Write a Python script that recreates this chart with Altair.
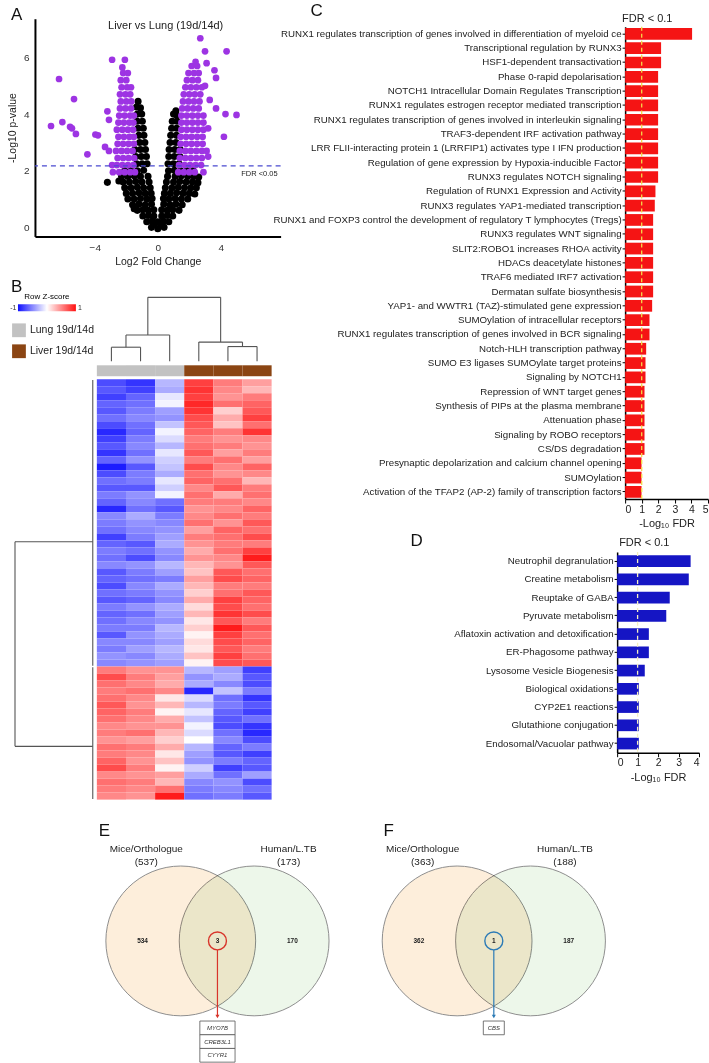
import altair as alt
import pandas as pd

FONT = "Liberation Sans, Arial, DejaVu Sans"
PURPLE = "#9d34e3"
RED = "#f51414"
BLUE = "#1515c4"

# ---------------- Panel A : volcano plot (log2FC, -log10 p) ----------------
volcano_ns = [
    (-0.4, 0.0), (0.0, -0.05), (0.4, 0.0), (-0.2, 0.12), (0.2, 0.12),
    (-0.7, 0.2), (-0.35, 0.22), (0.0, 0.2), (0.35, 0.22), (0.7, 0.2),
    (-0.95, 0.4), (-0.6, 0.42), (-0.25, 0.4), (0.25, 0.4), (0.6, 0.42), (0.95, 0.4),
    (-1.3, 0.6), (-0.95, 0.62), (-0.6, 0.6), (-0.25, 0.62), (0.25, 0.62), (0.6, 0.6),
    (0.95, 0.62), (1.35, 0.6), (-1.5, 0.66),
    (-1.6, 0.8), (-1.2, 0.82), (-0.8, 0.8), (-0.4, 0.82), (0.38, 0.82), (0.78, 0.8),
    (1.15, 0.82), (1.55, 0.8),
    (-1.9, 1.0), (-1.5, 1.0), (-1.1, 1.02), (-0.7, 1.0), (-0.36, 1.02), (0.36, 1.02),
    (0.7, 1.0), (1.1, 1.02), (1.5, 1.0), (1.9, 1.0),
    (-2.0, 1.2), (-1.6, 1.2), (-1.2, 1.22), (-0.8, 1.2), (-0.42, 1.2), (0.42, 1.2),
    (0.8, 1.2), (1.2, 1.22), (1.6, 1.2), (2.0, 1.2), (2.35, 1.18),
    (-2.1, 1.4), (-1.7, 1.4), (-1.3, 1.42), (-0.9, 1.4), (-0.48, 1.4), (0.48, 1.4),
    (0.9, 1.4), (1.3, 1.42), (1.7, 1.4), (2.1, 1.4), (2.45, 1.4),
    (-2.2, 1.6), (-1.8, 1.6), (-1.4, 1.62), (-1.0, 1.6), (-0.55, 1.6), (0.55, 1.6),
    (1.0, 1.6), (1.4, 1.62), (1.8, 1.6), (2.2, 1.6), (2.55, 1.58), (-2.47, 1.64),
    (-3.2, 1.59),
    (-2.3, 1.8), (-1.9, 1.8), (-1.5, 1.82), (-1.1, 1.8), (-0.62, 1.8), (0.62, 1.8),
    (1.1, 1.8), (1.5, 1.82), (1.9, 1.8), (2.3, 1.8), (2.6, 1.78),
    (-2.1, 2.0), (-1.7, 2.0), (-1.3, 2.0), (-0.9, 2.02), (0.68, 2.0), (1.05, 2.02),
    (1.45, 2.0), (1.85, 2.0), (2.25, 2.0),
    (-1.35, 2.25), (-1.0, 2.25), (-0.68, 2.25), (0.65, 2.25), (1.0, 2.25), (1.35, 2.25),
    (-1.4, 2.5), (-1.05, 2.5), (-0.72, 2.5), (0.7, 2.5), (1.05, 2.5), (1.4, 2.5),
    (-1.45, 2.75), (-1.1, 2.75), (-0.78, 2.75), (0.72, 2.75), (1.08, 2.75), (1.42, 2.75),
    (-1.15, 3.0), (-0.82, 3.0), (0.78, 3.0), (1.15, 3.0),
    (-1.2, 3.25), (-0.88, 3.25), (0.82, 3.25), (1.18, 3.25),
    (-1.25, 3.5), (-0.92, 3.5), (0.88, 3.5), (1.2, 3.5),
    (-1.3, 3.75), (-0.98, 3.75), (0.92, 3.75), (1.22, 3.75),
    (-1.3, 4.0), (-1.02, 4.0), (1.0, 4.0), (1.22, 3.95),
    (-1.35, 4.25), (-1.1, 4.22), (1.15, 4.12),
    (-1.25, 4.45),
]

volcano_sig = [
    # left (down-regulated) cloud
    (-2.45, 1.95), (-2.1, 1.95), (-1.75, 1.95), (-1.45, 1.95),
    (-2.6, 2.2), (-2.25, 2.2), (-1.9, 2.2), (-1.55, 2.2),
    (-2.55, 2.45), (-2.2, 2.45), (-1.85, 2.45), (-1.5, 2.45),
    (-2.65, 2.7), (-2.3, 2.7), (-1.95, 2.7), (-1.6, 2.7),
    (-2.55, 2.95), (-2.2, 2.95), (-1.85, 2.95), (-1.52, 2.95),
    (-2.5, 3.2), (-2.15, 3.2), (-1.8, 3.2), (-1.52, 3.2),
    (-2.6, 3.45), (-2.25, 3.45), (-1.9, 3.45), (-1.57, 3.45),
    (-2.5, 3.7), (-2.15, 3.7), (-1.8, 3.7), (-1.55, 3.7),
    (-2.45, 3.95), (-2.1, 3.95), (-1.75, 3.95), (-1.52, 3.95),
    (-2.4, 4.2), (-2.05, 4.2), (-1.7, 4.2),
    (-2.35, 4.45), (-2.0, 4.45), (-1.68, 4.45),
    (-2.4, 4.7), (-2.05, 4.7), (-1.75, 4.7),
    (-2.3, 4.95), (-1.95, 4.95), (-1.7, 4.95),
    (-2.35, 5.2), (-2.0, 5.2),
    (-2.2, 5.45), (-1.9, 5.45),
    (-2.25, 5.65),
    (-2.9, 5.92), (-2.09, 5.92), (-6.27, 5.24), (-5.32, 4.53), (-6.06, 3.72),
    (-6.78, 3.58), (-5.57, 3.55), (-5.45, 3.5), (-5.2, 3.3), (-3.96, 3.28),
    (-3.8, 3.25), (-4.47, 2.58), (-3.35, 2.84), (-3.1, 2.7), (-3.2, 4.1),
    (-3.1, 3.8), (-2.9, 2.2), (-2.85, 1.95),
    # right (up-regulated) cloud
    (1.3, 1.95), (1.65, 1.95), (2.0, 1.95), (2.35, 1.95),
    (1.35, 2.2), (1.7, 2.2), (2.05, 2.2), (2.4, 2.2), (2.75, 2.2),
    (1.4, 2.45), (1.75, 2.45), (2.1, 2.45), (2.45, 2.45), (2.8, 2.45),
    (1.4, 2.7), (1.75, 2.7), (2.1, 2.7), (2.45, 2.7), (2.8, 2.7),
    (1.45, 2.95), (1.8, 2.95), (2.15, 2.95), (2.5, 2.95), (2.85, 2.95),
    (1.45, 3.2), (1.8, 3.2), (2.15, 3.2), (2.5, 3.2), (2.85, 3.2),
    (1.5, 3.45), (1.85, 3.45), (2.2, 3.45), (2.55, 3.45), (2.9, 3.45),
    (1.5, 3.7), (1.85, 3.7), (2.2, 3.7), (2.55, 3.7), (2.9, 3.7),
    (1.5, 3.95), (1.85, 3.95), (2.2, 3.95), (2.55, 3.95), (2.9, 3.95),
    (1.55, 4.2), (1.9, 4.2), (2.25, 4.2), (2.6, 4.2),
    (1.6, 4.45), (1.95, 4.45), (2.3, 4.45), (2.65, 4.45),
    (1.65, 4.7), (2.0, 4.7), (2.35, 4.7), (2.7, 4.7),
    (1.75, 4.95), (2.1, 4.95), (2.45, 4.95), (2.8, 4.95),
    (1.85, 5.2), (2.2, 5.2), (2.55, 5.2),
    (1.95, 5.45), (2.3, 5.45), (2.6, 5.45),
    (2.15, 5.7), (2.5, 5.7),
    (2.7, 6.68), (3.0, 6.22), (4.37, 6.22), (2.4, 5.85), (3.1, 5.8), (3.6, 5.55),
    (3.7, 5.28), (4.3, 4.0), (5.0, 3.97), (4.2, 3.2), (3.7, 4.2), (3.1, 2.7),
    (3.2, 2.5), (2.9, 1.95), (3.2, 3.5), (3.3, 4.5), (3.0, 5.0),
]
fdr005_nlp = 2.17

# ---------------- Panel B : heatmap (row z-scores) ----------------
heat_samples = ["Lung 1", "Lung 2", "Lung 3", "Liver 1", "Liver 2", "Liver 3"]
heat_groups = ["Lung 19d/14d", "Lung 19d/14d", "Lung 19d/14d",
               "Liver 19d/14d", "Liver 19d/14d", "Liver 19d/14d"]
heat_rows_up_in_liver = [
    [-0.75, -0.85, -0.30, 0.80, 0.55, 0.40],
    [-0.70, -0.80, -0.35, 0.85, 0.50, 0.30],
    [-0.80, -0.65, -0.10, 0.80, 0.45, 0.55],
    [-0.65, -0.60, -0.05, 0.90, 0.60, 0.65],
    [-0.70, -0.55, -0.40, 0.85, 0.20, 0.70],
    [-0.60, -0.50, -0.45, 0.75, 0.35, 0.80],
    [-0.75, -0.60, -0.25, 0.70, 0.25, 0.60],
    [-0.90, -0.65, -0.05, 0.65, 0.55, 0.85],
    [-0.80, -0.55, -0.15, 0.55, 0.45, 0.50],
    [-0.70, -0.50, -0.30, 0.60, 0.55, 0.45],
    [-0.85, -0.60, -0.10, 0.70, 0.40, 0.55],
    [-0.65, -0.45, -0.20, 0.55, 0.60, 0.40],
    [-0.95, -0.70, -0.25, 0.75, 0.50, 0.65],
    [-0.75, -0.55, -0.35, 0.60, 0.45, 0.50],
    [-0.60, -0.55, -0.10, 0.65, 0.60, 0.30],
    [-0.70, -0.70, -0.20, 0.50, 0.70, 0.55],
    [-0.55, -0.45, -0.05, 0.60, 0.35, 0.60],
    [-0.65, -0.50, -0.60, 0.55, 0.55, 0.50],
    [-0.90, -0.60, -0.70, 0.45, 0.50, 0.65],
    [-0.50, -0.35, -0.55, 0.50, 0.60, 0.55],
    [-0.55, -0.45, -0.50, 0.60, 0.45, 0.70],
    [-0.60, -0.50, -0.45, 0.40, 0.65, 0.60],
    [-0.80, -0.55, -0.40, 0.55, 0.60, 0.75],
    [-0.65, -0.70, -0.35, 0.45, 0.55, 0.55],
    [-0.55, -0.60, -0.45, 0.35, 0.60, 0.80],
    [-0.60, -0.75, -0.50, 0.45, 0.50, 0.95],
    [-0.50, -0.45, -0.30, 0.30, 0.45, 0.70],
    [-0.70, -0.55, -0.40, 0.25, 0.70, 0.60],
    [-0.65, -0.60, -0.55, 0.40, 0.75, 0.65],
    [-0.75, -0.50, -0.35, 0.30, 0.55, 0.55],
    [-0.60, -0.55, -0.45, 0.20, 0.60, 0.70],
    [-0.70, -0.65, -0.50, 0.35, 0.80, 0.65],
    [-0.55, -0.45, -0.35, 0.15, 0.75, 0.60],
    [-0.65, -0.60, -0.40, 0.30, 0.85, 0.75],
    [-0.60, -0.50, -0.45, 0.10, 0.70, 0.55],
    [-0.55, -0.55, -0.30, 0.20, 0.95, 0.70],
    [-0.70, -0.45, -0.35, 0.05, 0.80, 0.60],
    [-0.50, -0.50, -0.40, 0.15, 0.75, 0.65],
    [-0.55, -0.40, -0.30, 0.10, 0.70, 0.55],
    [-0.45, -0.50, -0.35, 0.25, 0.80, 0.60],
    [-0.50, -0.45, -0.40, 0.05, 0.75, 0.70],
]
heat_rows_down_in_liver = [
    [0.55, 0.45, 0.45, -0.30, -0.40, -0.80],
    [0.75, 0.55, 0.40, -0.45, -0.35, -0.70],
    [0.60, 0.50, 0.35, -0.35, -0.50, -0.75],
    [0.55, 0.60, 0.50, -0.90, -0.25, -0.55],
    [0.60, 0.50, 0.10, -0.15, -0.60, -0.85],
    [0.70, 0.45, 0.30, -0.30, -0.55, -0.70],
    [0.65, 0.55, 0.05, -0.10, -0.65, -0.80],
    [0.60, 0.50, 0.35, -0.25, -0.70, -0.60],
    [0.50, 0.45, 0.45, -0.05, -0.75, -0.85],
    [0.55, 0.60, 0.30, -0.15, -0.60, -0.90],
    [0.45, 0.40, 0.20, 0.00, -0.50, -0.75],
    [0.60, 0.55, 0.35, -0.30, -0.65, -0.55],
    [0.55, 0.50, 0.10, -0.40, -0.70, -0.80],
    [0.65, 0.45, 0.25, -0.45, -0.55, -0.65],
    [0.75, 0.55, 0.05, -0.20, -0.80, -0.70],
    [0.50, 0.45, 0.40, -0.35, -0.60, -0.40],
    [0.60, 0.55, 0.30, -0.50, -0.45, -0.75],
    [0.55, 0.50, 0.60, -0.55, -0.50, -0.60],
    [0.50, 0.45, 0.95, -0.60, -0.55, -0.70],
]
# column dendrogram (scipy-like linkage: member a, member b, merge height; leaves 0..5)
col_linkage = [(0, 1, 0.22), (6, 2, 0.41), (4, 5, 0.23), (3, 8, 0.30), (7, 9, 1.00)]
# row dendrogram: two gene clusters joined at the root; branch attachment rows
row_cluster_sizes = [41, 19]
row_branch_rows = [23.2, 52.4]
zscore_ends = ["-1", "1"]

# ---------------- Panels C / D : enriched Reactome pathways ----------------
c_pathways = [
    "RUNX1 regulates transcription of genes involved in differentiation of myeloid ce",
    "Transcriptional regulation by RUNX3",
    "HSF1-dependent transactivation",
    "Phase 0-rapid depolarisation",
    "NOTCH1 Intracellular Domain Regulates Transcription",
    "RUNX1 regulates estrogen receptor mediated transcription",
    "RUNX1 regulates transcription of genes involved in interleukin signaling",
    "TRAF3-dependent IRF activation pathway",
    "LRR FLII-interacting protein 1 (LRRFIP1) activates type I IFN production",
    "Regulation of gene expression by Hypoxia-inducible Factor",
    "RUNX3 regulates NOTCH signaling",
    "Regulation of RUNX1 Expression and Activity",
    "RUNX3 regulates YAP1-mediated transcription",
    "RUNX1 and FOXP3 control the development of regulatory T lymphocytes (Tregs)",
    "RUNX3 regulates WNT signaling",
    "SLIT2:ROBO1 increases RHOA activity",
    "HDACs deacetylate histones",
    "TRAF6 mediated IRF7 activation",
    "Dermatan sulfate biosynthesis",
    "YAP1- and WWTR1 (TAZ)-stimulated gene expression",
    "SUMOylation of intracellular receptors",
    "RUNX1 regulates transcription of genes involved in BCR signaling",
    "Notch-HLH transcription pathway",
    "SUMO E3 ligases SUMOylate target proteins",
    "Signaling by NOTCH1",
    "Repression of WNT target genes",
    "Synthesis of PIPs at the plasma membrane",
    "Attenuation phase",
    "Signaling by ROBO receptors",
    "CS/DS degradation",
    "Presynaptic depolarization and calcium channel opening",
    "SUMOylation",
    "Activation of the TFAP2 (AP-2) family of transcription factors",
]
c_scores = [4.04, 2.17, 2.17, 1.99, 1.99, 1.99, 1.99, 1.99, 1.99, 1.99, 1.99,
            1.83, 1.79, 1.69, 1.69, 1.69, 1.69, 1.69, 1.69, 1.63, 1.47, 1.47,
            1.27, 1.23, 1.23, 1.17, 1.17, 1.17, 1.17, 1.17, 0.99, 0.99, 0.99]
d_pathways = [
    "Neutrophil degranulation",
    "Creatine metabolism",
    "Reuptake of GABA",
    "Pyruvate metabolism",
    "Aflatoxin activation and detoxification",
    "ER-Phagosome pathway",
    "Lysosome Vesicle Biogenesis",
    "Biological oxidations",
    "CYP2E1 reactions",
    "Glutathione conjugation",
    "Endosomal/Vacuolar pathway",
]
d_scores = [3.59, 3.5, 2.57, 2.4, 1.55, 1.55, 1.35, 1.06, 1.06, 1.06, 1.06]
fdr01_cut = 1.0  # -log10(0.1)

# ---------------- Panels E / F : Venn diagrams ----------------
venn_set_names = ["Mice/Orthologue", "Human/L.TB"]
venn_E_counts = [534, 3, 170]   # mice only, shared, human only
venn_F_counts = [362, 1, 187]
venn_E_genes = ["MYO7B", "CREB3L1", "CYYR1"]
venn_F_genes = ["CBS"]


def label_text(txt, dx, dy, size=17, align="left", baseline="alphabetic", color="#111"):
    return alt.Chart(pd.DataFrame({"t": [txt]})).mark_text(
        align=align, baseline=baseline, fontSize=size, color=color
    ).encode(x=alt.value(dx), y=alt.value(dy), text="t:N")


# ======================= A =======================
ns_df = pd.DataFrame(volcano_ns, columns=["lfc", "nlp"])
sig_df = pd.DataFrame(volcano_sig, columns=["lfc", "nlp"])
xA = alt.Scale(domain=[-7.8, 7.8], nice=False, zero=False)
yA = alt.Scale(domain=[-0.32, 7.37], nice=False, zero=False)
axA_x = alt.Axis(values=[-4, 0, 4], title="Log2 Fold Change", ticks=False, labelPadding=6,
                 labelFontSize=10, titleFontSize=10.5, domainWidth=2, titlePadding=4)
axA_y = alt.Axis(values=[0, 2, 4, 6], title="-Log10 p-value", ticks=False, labelPadding=6,
                 labelFontSize=10, titleFontSize=10.5, domainWidth=2, titlePadding=6)


def XA():
    return alt.X("lfc:Q", scale=xA, axis=axA_x)


def YA():
    return alt.Y("nlp:Q", scale=yA, axis=axA_y)


A_ns = alt.Chart(ns_df).mark_circle(size=50, color="black", opacity=1).encode(x=XA(), y=YA())
A_sig = alt.Chart(sig_df).mark_circle(size=45, color=PURPLE, opacity=1).encode(x=XA(), y=YA())
A_line = alt.Chart(pd.DataFrame({"nlp": [fdr005_nlp]})).mark_rule(
    color="#4a4ad0", strokeDash=[5, 4], strokeWidth=1.2).encode(y=YA())
A_lab = alt.Chart(pd.DataFrame({"lfc": [5.3], "nlp": [1.9], "t": ["FDR <0.05"]})).mark_text(
    align="left", baseline="middle", fontSize=7.5, color="#222").encode(x=XA(), y=YA(), text="t:N")
A_title = alt.Chart(pd.DataFrame({"lfc": [0.5], "nlp": [7.1], "t": ["Liver vs Lung (19d/14d)"]})).mark_text(
    baseline="middle", fontSize=11, color="#222").encode(x=XA(), y=YA(), text="t:N")
A = alt.layer(A_ns, A_sig, A_line, A_lab, A_title, label_text("A", -24, 1.5)).properties(width=246, height=218)

# ======================= B =======================
xB = alt.Scale(domain=[-2.125, 6], nice=False, zero=False)
yB = alt.Scale(domain=[-11.69, 60], nice=False, zero=False, reverse=True)
zscale = alt.Scale(domain=[-1, 0, 1], range=["#1010ff", "#ffffff", "#ff1010"], interpolate="rgb")

heat_rows = heat_rows_up_in_liver + heat_rows_down_in_liver
recs = []
for r, vals in enumerate(heat_rows):
    for c, v in enumerate(vals):
        recs.append({"c0": c, "c1": c + 1, "r0": r, "r1": r + 1, "z": v, "sample": heat_samples[c]})
heat_df = pd.DataFrame(recs)

ANNOT_TOP, ANNOT_BOT = -1.99, -0.43
annot_df = pd.DataFrame({"c0": list(range(6)), "c1": [c + 1 for c in range(6)],
                         "r0": [ANNOT_TOP] * 6, "r1": [ANNOT_BOT] * 6, "group": heat_groups})

# column dendrogram segments
COL_BASE, COL_SPAN = -2.565, 9.12
pos = {i: i + 0.5 for i in range(6)}
hgt = {i: 0.0 for i in range(6)}
segs = []
for k, (a, b, h) in enumerate(col_linkage):
    for m in (a, b):
        segs.append({"x": pos[m], "x2": pos[m], "y": COL_BASE - COL_SPAN * hgt[m], "y2": COL_BASE - COL_SPAN * h})
    segs.append({"x": pos[a], "x2": pos[b], "y": COL_BASE - COL_SPAN * h, "y2": COL_BASE - COL_SPAN * h})
    pos[6 + k] = (pos[a] + pos[b]) / 2
    hgt[6 + k] = h
# row dendrogram segments
ROW_LEAF, ROW_SPAN = -0.14, 2.67
start = 0
for size, br in zip(row_cluster_sizes, row_branch_rows):
    segs.append({"x": ROW_LEAF, "x2": ROW_LEAF, "y": start + 0.1, "y2": start + size - 0.1})
    segs.append({"x": ROW_LEAF, "x2": ROW_LEAF - ROW_SPAN, "y": br, "y2": br})
    start += size
segs.append({"x": ROW_LEAF - ROW_SPAN, "x2": ROW_LEAF - ROW_SPAN, "y": row_branch_rows[0], "y2": row_branch_rows[1]})
seg_df = pd.DataFrame(segs)

B_heat = alt.Chart(heat_df).mark_rect().encode(
    x=alt.X("c0:Q", scale=xB, axis=None), x2="c1:Q",
    y=alt.Y("r0:Q", scale=yB, axis=None), y2="r1:Q",
    color=alt.Color("z:Q", scale=zscale, legend=alt.Legend(
        type="gradient", title="Row Z-score", orient="none", legendX=-17, legendY=-4,
        direction="horizontal", gradientLength=58, gradientThickness=7, values=[-1, 1],
        labelOpacity=0, labelFontSize=1, titleFontSize=8, titleFontWeight="normal",
        titleAnchor="middle", titlePadding=3, gradientStrokeWidth=0)),
)
B_annot = alt.Chart(annot_df).mark_rect(strokeWidth=0).encode(
    x=alt.X("c0:Q", scale=xB, axis=None), x2="c1:Q",
    y=alt.Y("r0:Q", scale=yB, axis=None), y2="r1:Q",
    fill=alt.Fill("group:N", scale=alt.Scale(domain=["Lung 19d/14d", "Liver 19d/14d"],
                                             range=["#c2c2c2", "#8b4513"]),
                  legend=alt.Legend(title=None, orient="none", legendX=-23, legendY=26,
                                    symbolType="square", symbolSize=190, symbolStrokeWidth=0,
                                    labelFontSize=10.5, labelColor="#222", rowPadding=7,
                                    labelOffset=4)),
)
B_dendro = alt.Chart(seg_df).mark_rule(color="#555555", strokeWidth=1.1).encode(
    x=alt.X("x:Q", scale=xB, axis=None), x2="x2:Q",
    y=alt.Y("y:Q", scale=yB, axis=None), y2="y2:Q")
B = alt.layer(
    B_heat, B_annot, B_dendro, label_text("B", -24, -5),
    label_text(zscore_ends[0], -18.5, 11, size=7, align="right", baseline="middle", color="#333"),
    label_text(zscore_ends[1], 43, 11, size=7, align="left", baseline="middle", color="#333"),
).properties(width=237, height=503)

# ======================= C =======================
axis_common = dict(domainColor="black", tickColor="black", labelColor="#222", titleColor="#222",
                   labelOverlap=False)
c_df = pd.DataFrame({"pathway": c_pathways, "score": c_scores})
xC = alt.Scale(domain=[0, 5], nice=False, zero=True)
axC_x = alt.Axis(values=[0, 1, 2, 3, 4, 5], title="-Log₁₀ FDR", tickSize=4, labelFontSize=10.5,
                 titleFontSize=11, titleFontWeight="normal", domainWidth=1.5, labelPadding=1,
                 titlePadding=3, **axis_common)
C_bars = alt.Chart(c_df).mark_bar(color=RED).encode(
    x=alt.X("score:Q", scale=xC, axis=axC_x),
    y=alt.Y("pathway:N", sort=c_pathways,
            scale=alt.Scale(paddingInner=0.18, paddingOuter=0.09, range=[8, 481]),
            axis=alt.Axis(title=None, labelLimit=600, labelFontSize=9.75, tickSize=3,
                          labelPadding=1, domainWidth=1.5, **axis_common)),
)
C_rule = alt.Chart(pd.DataFrame({"score": [fdr01_cut]})).mark_rule(
    color="#f3d94a", strokeDash=[4, 3], strokeWidth=1.3).encode(
    x=alt.X("score:Q", scale=xC, axis=axC_x), y=alt.value(8), y2=alt.value(481))
C = alt.layer(C_bars, C_rule, label_text("C", -315, -3),
              label_text("FDR < 0.1", -3, 3, size=11, color="#222")).properties(width=83, height=481)

# ======================= D =======================
d_df = pd.DataFrame({"pathway": d_pathways, "score": d_scores})
xD = alt.Scale(domain=[0, 4], nice=False, zero=True, range=[-8, 74])
axD_x = alt.Axis(values=[0, 1, 2, 3, 4], title="-Log₁₀ FDR", tickSize=4, labelFontSize=10.5,
                 titleFontSize=11, titleFontWeight="normal", domainWidth=1.5, labelPadding=1,
                 titlePadding=3, **axis_common)
D_bars = alt.Chart(d_df).mark_bar(color=BLUE).encode(
    x=alt.X("score:Q", scale=xD, axis=axD_x),
    y=alt.Y("pathway:N", sort=d_pathways, scale=alt.Scale(paddingInner=0.36, paddingOuter=0.18),
            axis=alt.Axis(title=None, labelLimit=600, labelFontSize=9.75, tickSize=3, offset=8,
                          labelPadding=1, domainWidth=1.5, **axis_common)),
)
D_rule = alt.Chart(pd.DataFrame({"score": [fdr01_cut]})).mark_rule(
    color="#f4efc0", strokeDash=[4, 3], strokeWidth=1.3).encode(x=alt.X("score:Q", scale=xD, axis=axD_x))
D = alt.layer(D_bars, D_rule, label_text("D", -215, -6),
              label_text("FDR < 0.1", -6, -6, size=11, color="#222")).properties(width=74, height=201)


# ======================= E / F =======================
def venn(counts, genes, hl_color, label, xdom, lx, box_halfw, width):
    sep = 0.49
    xs = alt.Scale(domain=xdom, nice=False, zero=False)
    ys = alt.Scale(domain=[-1.567, 1.567], nice=False, zero=False)

    def X(f):
        return alt.X(f, scale=xs, axis=None)

    def Y(f):
        return alt.Y(f, scale=ys, axis=None)

    layers = []
    for cx, col in zip([-sep, sep], ["#fdeedb", "#edf7ea"]):
        layers.append(alt.Chart(pd.DataFrame({"cx": [cx], "cy": [0.0]})).mark_circle(
            size=22500, opacity=1, fill=col, stroke="#8e8e8e", strokeWidth=1, blend="multiply"
        ).encode(x=X("cx:Q"), y=Y("cy:Q")))
    totals = [f"({counts[0] + counts[1]})", f"({counts[2] + counts[1]})"]
    tdf = pd.DataFrame({"tx": [-0.95, 0.95], "ty": [1.233, 1.233], "ty2": [1.06, 1.06],
                        "name": venn_set_names, "total": totals})
    layers.append(alt.Chart(tdf).mark_text(fontSize=10, color="#222", baseline="middle").encode(
        x=X("tx:Q"), y=Y("ty:Q"), text="name:N"))
    layers.append(alt.Chart(tdf).mark_text(fontSize=10, color="#222", baseline="middle").encode(
        x=X("tx:Q"), y=Y("ty2:Q"), text="total:N"))
    ndf = pd.DataFrame({"nx": [-1.0, 0.0, 1.0], "ny": [0.0, 0.0, 0.0], "n": [str(c) for c in counts]})
    layers.append(alt.Chart(ndf).mark_text(fontSize=6.5, fontWeight="bold", color="#222",
                                           baseline="middle").encode(x=X("nx:Q"), y=Y("ny:Q"), text="n:N"))
    layers.append(alt.Chart(pd.DataFrame({"x": [0.0], "y": [0.0]})).mark_point(
        shape="circle", filled=False, size=324, strokeWidth=1.4, color=hl_color, opacity=1).encode(
        x=X("x:Q"), y=Y("y:Q")))
    layers.append(alt.Chart(pd.DataFrame({"x": [0.0], "y": [-0.12], "y2": [-1.0]})).mark_rule(
        color=hl_color, strokeWidth=1.2).encode(x=X("x:Q"), y=Y("y:Q"), y2="y2:Q"))
    layers.append(alt.Chart(pd.DataFrame({"x": [0.0], "y": [-1.01]})).mark_point(
        shape="triangle-down", filled=True, size=16, color=hl_color, opacity=1).encode(
        x=X("x:Q"), y=Y("y:Q")))
    BOX_TOP, ROW_H = -1.07, 0.183
    n = len(genes)
    gdf = pd.DataFrame({"x0": [-box_halfw] * n, "x1": [box_halfw] * n,
                        "y0": [BOX_TOP - i * ROW_H for i in range(n)],
                        "y1": [BOX_TOP - (i + 1) * ROW_H for i in range(n)],
                        "ym": [BOX_TOP - (i + 0.5) * ROW_H for i in range(n)],
                        "xm": [0.0] * n, "gene": genes})
    layers.append(alt.Chart(gdf).mark_rect(fill="white", stroke="#555", strokeWidth=0.8).encode(
        x=X("x0:Q"), x2="x1:Q", y=Y("y0:Q"), y2="y1:Q"))
    layers.append(alt.Chart(gdf).mark_text(fontSize=6, fontStyle="italic", color="#333",
                                           baseline="middle").encode(x=X("xm:Q"), y=Y("ym:Q"), text="gene:N"))
    layers.append(label_text(label, lx, 12))
    return alt.layer(*layers).properties(width=width, height=235)


E = venn(venn_E_counts, venn_E_genes, "#d8342a", "E", [-2.437, 1.83], 64, 0.235, 320)
F = venn(venn_F_counts, venn_F_genes, "#2c7bb6", "F", [-1.86, 2.673], 29, 0.14, 340)

IND = dict(color="independent", fill="independent")
left_col = alt.vconcat(A, B, spacing=11).resolve_scale(**IND)
right_col = alt.vconcat(C, D, spacing=3).resolve_scale(**IND)
top = alt.hconcat(left_col, right_col, spacing=-10).resolve_scale(**IND)
bottom = alt.hconcat(E, F, spacing=0).resolve_scale(**IND)

chart = alt.vconcat(top, bottom, spacing=22).resolve_scale(**IND).properties(
    padding={"left": 7, "right": 0, "top": 1, "bottom": 1}
).configure(font=FONT, background="white").configure_view(stroke=None).configure_axis(
    grid=False, labelFont=FONT, titleFont=FONT, titleFontWeight="normal",
    domainColor="black", labelColor="#333", titleColor="#222"
).configure_text(font=FONT)

chart.save("out.html", embed_options={"renderer": "svg", "actions": False})
